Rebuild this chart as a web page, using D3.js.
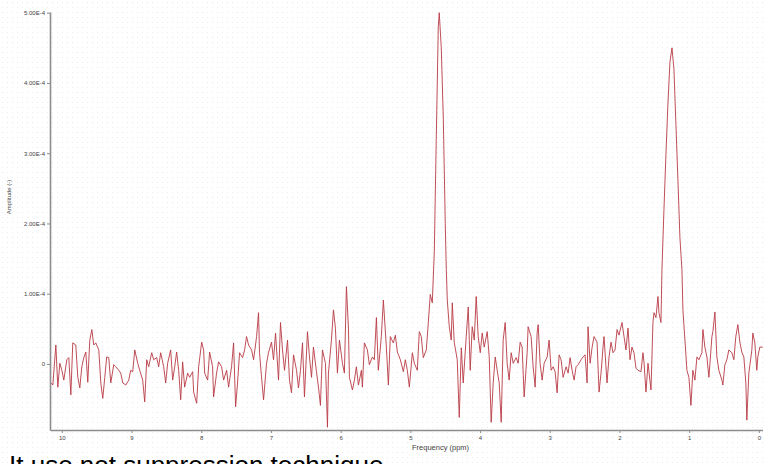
<!DOCTYPE html>
<html>
<head>
<meta charset="utf-8">
<script src="https://cdn.jsdelivr.net/npm/d3@7"></script>
<style>
  html, body { margin: 0; padding: 0; background: #fff; }
  svg { display: block; }
  .tick text { font-family: "Liberation Sans", Arial, sans-serif; fill: #444; }
</style>
</head>
<body>
<div id="chart"></div>
<script>
// frequency (ppm) of each sample
const ppm = [
  10.158, 10.129, 10.086, 10.058, 10.029, 10.000, 9.972, 9.929, 9.900, 9.871,
  9.843, 9.800, 9.771, 9.742, 9.714, 9.685, 9.656, 9.628, 9.599, 9.570,
  9.542, 9.513, 9.470, 9.441, 9.413, 9.384, 9.356, 9.327, 9.298, 9.255,
  9.227, 9.184, 9.155, 9.126, 9.083, 9.040, 9.012, 8.983, 8.954, 8.911,
  8.883, 8.840, 8.811, 8.782, 8.754, 8.711, 8.682, 8.639, 8.611, 8.582,
  8.539, 8.510, 8.482, 8.439, 8.410, 8.381, 8.353, 8.324, 8.295, 8.267,
  8.238, 8.195, 8.166, 8.123, 8.109, 8.066, 8.037, 7.994, 7.966, 7.951,
  7.908, 7.880, 7.837, 7.823, 7.780, 7.751, 7.708, 7.679, 7.636, 7.608,
  7.565, 7.536, 7.507, 7.479, 7.450, 7.407, 7.378, 7.350, 7.321, 7.278,
  7.249, 7.206, 7.178, 7.164, 7.135, 7.106, 7.063, 7.035, 6.992, 6.963,
  6.934, 6.891, 6.863, 6.834, 6.805, 6.762, 6.734, 6.705, 6.676, 6.633,
  6.605, 6.576, 6.547, 6.519, 6.476, 6.447, 6.418, 6.390, 6.347, 6.318,
  6.290, 6.261, 6.218, 6.189, 6.175, 6.132, 6.103, 6.075, 6.046, 6.017,
  5.974, 5.946, 5.917, 5.888, 5.874, 5.831, 5.802, 5.774, 5.745, 5.702,
  5.688, 5.659, 5.616, 5.588, 5.545, 5.516, 5.487, 5.459, 5.416, 5.387,
  5.344, 5.315, 5.287, 5.244, 5.215, 5.186, 5.143, 5.100, 5.072, 5.043,
  5.014, 4.971, 4.943, 4.900, 4.871, 4.843, 4.814, 4.771, 4.742, 4.714,
  4.685, 4.656, 4.628, 4.599, 4.585, 4.556, 4.527, 4.499, 4.484, 4.470,
  4.441, 4.413, 4.398, 4.370, 4.327, 4.298, 4.269, 4.241, 4.198, 4.169,
  4.141, 4.112, 4.083, 4.055, 4.026, 3.997, 3.969, 3.940, 3.897, 3.868,
  3.840, 3.811, 3.782, 3.754, 3.725, 3.696, 3.668, 3.639, 3.611, 3.582,
  3.553, 3.524, 3.481, 3.453, 3.424, 3.396, 3.367, 3.324, 3.310, 3.267,
  3.238, 3.209, 3.181, 3.166, 3.138, 3.109, 3.080, 3.037, 3.009, 2.980,
  2.951, 2.923, 2.894, 2.865, 2.837, 2.808, 2.765, 2.736, 2.708, 2.679,
  2.650, 2.622, 2.593, 2.550, 2.522, 2.493, 2.464, 2.450, 2.421, 2.393,
  2.364, 2.321, 2.292, 2.264, 2.235, 2.221, 2.178, 2.149, 2.120, 2.092,
  2.063, 2.034, 2.006, 1.963, 1.934, 1.906, 1.877, 1.848, 1.820, 1.791,
  1.762, 1.734, 1.691, 1.662, 1.648, 1.619, 1.590, 1.547, 1.519, 1.504,
  1.476, 1.447, 1.433, 1.404, 1.390, 1.361, 1.332, 1.304, 1.275, 1.246,
  1.218, 1.189, 1.160, 1.132, 1.103, 1.089, 1.060, 1.032, 1.003, 0.974,
  0.946, 0.917, 0.888, 0.860, 0.817, 0.802, 0.774, 0.745, 0.716, 0.673,
  0.659, 0.630, 0.602, 0.573, 0.530, 0.516, 0.487, 0.458, 0.430, 0.387,
  0.358, 0.330, 0.301, 0.272, 0.244, 0.215, 0.186, 0.172, 0.143, 0.100,
  0.086, 0.057, 0.029, 0.014, -0.014, -0.057
];

// amplitude of each sample, in units of 1E-5
const amplitudeE5 = [
  -2.7, -3.0, 2.7, -3.3, 0.1, -0.9, -2.3, 0.6, 0.9, -4.4,
  3.0, 2.7, -1.9, -3.4, -0.4, 0.9, 1.7, -2.6, 3.4, 4.9,
  2.7, 3.0, 2.0, -2.7, -4.9, -1.9, 1.0, 0.9, -2.7, -0.1,
  -0.4, -0.9, -1.3, -2.7, -3.0, -2.3, -0.9, -1.1, 2.0, 0.1,
  -0.9, -2.3, -5.4, 0.6, -0.4, 1.6, 0.6, 0.9, -0.4, 1.6,
  -0.4, -2.7, 0.1, 2.0, -2.3, -0.4, 1.7, -0.9, -5.1, 0.3,
  -3.3, -1.3, -1.9, -1.1, -4.0, -5.6, -0.4, 3.1, 2.0, -1.3,
  -2.3, 1.7, -0.4, -4.7, -1.3, 0.3, -0.4, -2.3, -0.9, -3.3,
  -0.4, 3.0, -6.1, -2.7, 1.6, 0.9, 2.0, 3.9, 2.7, 2.0,
  0.6, 3.9, 7.3, 1.6, -1.9, -5.1, 0.1, 1.6, 3.1, 0.6,
  4.4, -2.3, 5.9, 2.0, -0.9, 3.4, -2.3, -4.1, 1.3, -0.9,
  -3.4, -0.9, 3.0, -4.7, 4.6, 1.0, -1.9, 2.4, -1.1, -3.3,
  -5.9, 2.0, 0.1, -9.0, -1.3, 3.4, 7.7, 5.1, -1.3, 3.4,
  0.1, -1.3, 11.0, 5.1, -1.9, -3.7, -2.3, -0.4, -3.0, -0.9,
  -3.3, 3.0, 2.0, -0.1, 1.0, 0.6, 6.6, -0.9, 3.9, 9.1,
  2.4, -3.0, 3.9, 3.0, 4.1, 1.7, 0.6, -1.1, 0.6, -0.9,
  -3.3, 1.6, 0.1, -0.9, 4.6, 3.9, 0.9, 2.0, 5.9, 9.9,
  8.7, 16, 32, 48, 50, 45, 35, 20, 13.4, 9.1,
  5.3, 3.4, 8.7, 3.1, 0.6, -7.6, 2.3, -2.7, 3.9, 8.1,
  -0.9, 5.3, 3.4, 9.6, 3.9, 1.6, 4.4, 2.4, 4.6, 1.0,
  -8.3, -2.7, 1.0, -0.9, -2.7, -8.3, 3.4, 5.9, 0.1, -2.3,
  1.6, 0.1, 0.9, 0.1, 3.1, 2.4, -4.7, 1.6, 5.3, 3.9,
  -0.4, -3.3, 4.4, 5.6, 0.1, -2.3, 0.1, 1.0, 3.4, -0.9,
  -0.4, -1.1, -4.1, 1.3, 0.6, -1.9, -0.4, -1.3, 0.9, -0.9,
  -2.3, -0.4, -0.1, 0.6, 1.0, 1.3, -2.7, 5.3, 0.1, 2.3,
  3.9, 3.1, -4.0, -1.3, 2.4, 3.9, -2.7, 1.0, 3.1, 1.6,
  2.0, 4.9, 4.1, 5.9, 3.9, 2.0, 5.1, 0.6, 2.4, 1.6,
  -0.6, -0.9, -1.1, 1.6, 0.3, -4.0, 0.1, -3.7, 5.9, 7.3,
  6.6, 9.6, 7.3, 5.9, 13.4, 22, 30, 37, 43, 45,
  42, 34, 26, 18, 13.4, 7.7, 3.4, -0.9, -1.9, -5.9,
  -0.9, -2.3, 1.0, 0.6, 1.6, 4.9, 2.4, 1.0, -1.9, 3.9,
  4.6, 7.4, 1.0, -0.9, -2.3, -3.0, -0.1, 0.6, 2.0, 1.6,
  0.6, 3.9, 5.6, 3.1, 1.7, 1.0, -2.7, -8.0, -1.3, 2.0,
  4.4, 3.0, -0.9, 1.0, 2.4, 2.4
];

const yTicks = [5e-4, 4e-4, 3e-4, 2e-4, 1e-4, 0];
const yTickLabels = ['5.00E-4', '4.00E-4', '3.00E-4', '2.00E-4', '1.00E-4', '0'];
const xTicks = [10, 9, 8, 7, 6, 5, 4, 3, 2, 1, 0];

if (ppm.length !== amplitudeE5.length) {
  console.error('length mismatch', ppm.length, amplitudeE5.length);
}

const width = 763;
const height = 464;
const margin = { left: 50, right: 763, top: 12, bottom: 430 };

const samples = ppm.map((p, i) => ({ ppm: p, amp: amplitudeE5[i] * 1e-5 }));

const svg = d3.select('#chart').append('svg')
  .attr('width', width)
  .attr('height', height);

// faint dotted background texture
const pattern = svg.append('defs').append('pattern')
  .attr('id', 'dots')
  .attr('width', 5).attr('height', 5)
  .attr('patternUnits', 'userSpaceOnUse');
pattern.append('rect')
  .attr('x', 2).attr('y', 2)
  .attr('width', 1).attr('height', 1)
  .attr('fill', '#ececec');
svg.append('rect')
  .attr('width', width).attr('height', height)
  .attr('fill', 'url(#dots)');

const x = d3.scaleLinear().domain([10.17, -0.06]).range([margin.left, margin.right]);
const y = d3.scaleLinear().domain([-0.94e-4, 5.01e-4]).range([margin.bottom, margin.top]);

const line = d3.line()
  .x(d => x(d.ppm))
  .y(d => y(d.amp));

svg.append('path')
  .datum(samples)
  .attr('fill', 'none')
  .attr('stroke', '#b83a44')
  .attr('stroke-width', 0.9)
  .attr('stroke-linejoin', 'miter')
  .attr('d', line);

const yAxis = svg.append('g')
  .attr('transform', `translate(${margin.left},0)`)
  .call(d3.axisLeft(y)
    .tickValues(yTicks)
    .tickFormat((d, i) => yTickLabels[i])
    .tickSize(3)
    .tickSizeOuter(0)
    .tickPadding(2));

const xAxis = svg.append('g')
  .attr('transform', `translate(0,${margin.bottom})`)
  .call(d3.axisBottom(x)
    .tickValues(xTicks)
    .tickFormat(d3.format('d'))
    .tickSize(3)
    .tickSizeOuter(0)
    .tickPadding(3));

[yAxis, xAxis].forEach(g => {
  g.select('.domain').attr('stroke', '#8c8c8c').attr('stroke-width', 1.6);
  g.selectAll('.tick line').attr('stroke', '#8c8c8c');
  g.selectAll('.tick text').attr('font-size', 6);
});

svg.append('text')
  .attr('transform', 'translate(11,197) rotate(-90)')
  .attr('text-anchor', 'middle')
  .attr('font-family', '"Liberation Sans", Arial, sans-serif')
  .attr('font-size', 6)
  .attr('fill', '#444')
  .text('Amplitude (-)');

svg.append('text')
  .attr('x', 412)
  .attr('y', 450)
  .attr('font-family', '"Liberation Sans", Arial, sans-serif')
  .attr('font-size', 7.5)
  .attr('fill', '#444')
  .text('Frequency (ppm)');

svg.append('text')
  .attr('x', 9)
  .attr('y', 474)
  .attr('font-family', '"Liberation Sans", Arial, sans-serif')
  .attr('font-size', 26)
  .attr('fill', '#000')
  .text('It use not suppression technique');
</script>
</body>
</html>
